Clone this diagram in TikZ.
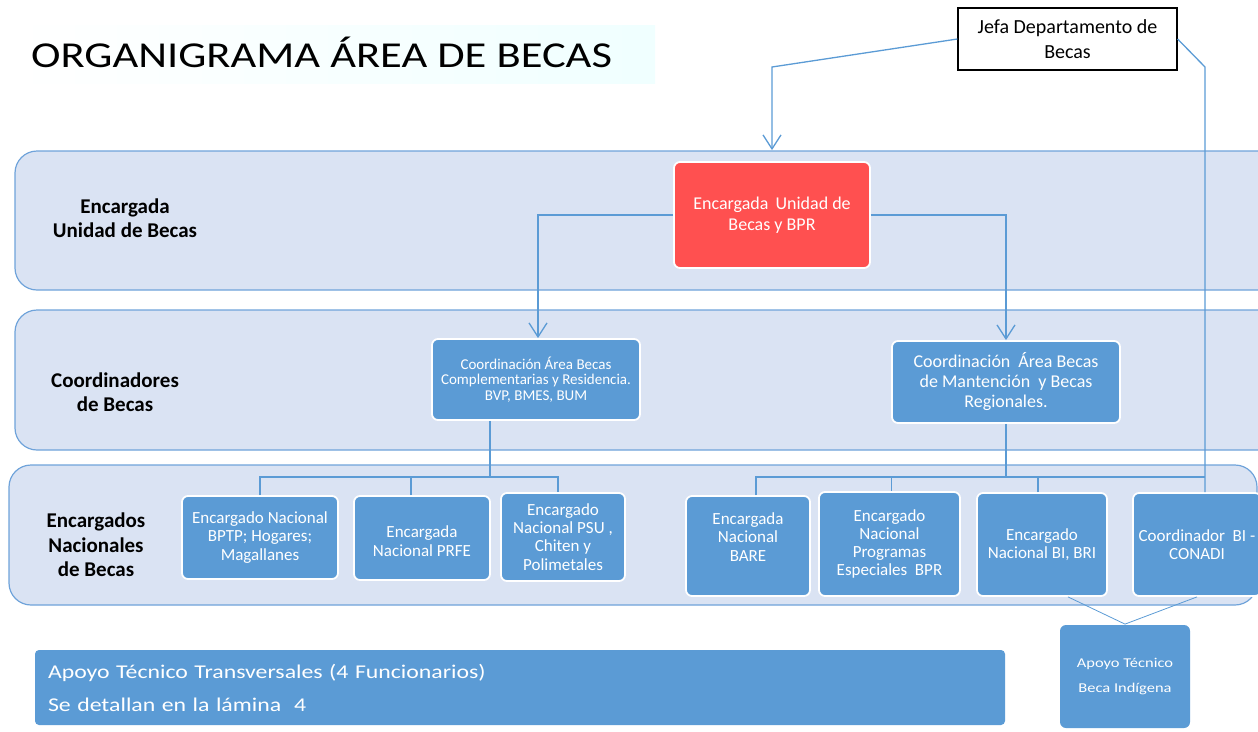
\documentclass[tikz,border=0pt]{standalone}
\usepackage{fontspec}
\setmainfont{Carlito}
\newfontfamily\widefont{Carlito}[FakeStretch=1.22]
\usetikzlibrary{arrows.meta}
\definecolor{boxblue}{HTML}{5B9BD5}
\definecolor{bandfill}{HTML}{DAE3F3}
\definecolor{bandline}{HTML}{6FA3DA}
\definecolor{redbox}{HTML}{FF5050}
\tikzset{
  band/.style={draw=bandline, fill=bandfill, line width=1.2pt, rounded corners=22pt},
  unit/.style={draw=white, line width=1.8pt, fill=boxblue, rounded corners=6pt,
    text=white, align=center, inner sep=2pt},
  row/.style={unit, font=\fontsize{17}{18.3}\selectfont},
  bandlabel/.style={font=\fontsize{21}{24.5}\selectfont\bfseries, align=center},
  link/.style={draw=boxblue, line width=1.3pt},
  arr/.style={link, -{Straight Barb[length=14pt,width=18pt]}}
}
\begin{document}
\begin{tikzpicture}[x=1pt,y=-1pt]
  \useasboundingbox (0,0) rectangle (1258,731);
  \shade[left color=white, right color=cyan!6] (12,25) rectangle (655,83);
  \node[anchor=base west, inner sep=0pt, font=\widefont\fontsize{36.5}{40}\selectfont] (title) at (31,67) {ORGANIGRAMA ÁREA DE BECAS};
  \draw[band] (15,151) rectangle (1300,290);
  \draw[band] (15,310) rectangle (1300,450);
  \draw[band] (9,465) rectangle (1257,605);
  \node[bandlabel] (l1) at (125,218) {Encargada\\Unidad de Becas};
  \node[bandlabel] (l2) at (115,392) {Coordinadores\\de Becas};
  \node[bandlabel] (l3) at (96,545) {Encargados\\Nacionales\\de Becas};
  \node[draw=black, line width=1.2pt, fill=white, minimum width=219pt, minimum height=62pt,
    align=center, font=\fontsize{20}{25}\selectfont] (jefa) at (1067.5,39)
    {Jefa Departamento de\\Becas};
  \node[unit, fill=redbox, minimum width=196pt, minimum height=106pt,
    font=\fontsize{18}{21.5}\selectfont] (ub) at (772,215)
    {Encargada\hspace{3pt} Unidad de\\Becas y BPR};
  \node[unit, minimum width=208pt, minimum height=81pt, font=\fontsize{15}{15.7}\selectfont] (cc) at (536,379.5)
    {Coordinación Área Becas\\Complementarias y Residencia.\\BVP, BMES, BUM};
  \node[unit, minimum width=228pt, minimum height=82pt, font=\fontsize{18}{20}\selectfont] (cm) at (1006,382)
    {Coordinación\hspace{4pt} Área Becas\\de Mantención\hspace{4pt} y Becas\\Regionales.};
  \node[row, minimum width=156pt, minimum height=83pt] (n1) at (260,537.5) {Encargado Nacional\\BPTP; Hogares;\\Magallanes};
  \node[row, minimum width=136pt, minimum height=84pt] (n2) at (422,538) {\mbox{}\\Encargada\\Nacional PRFE};
  \node[row, minimum width=124pt, minimum height=88pt] (n3) at (563,537) {Encargado\\Nacional PSU ,\\Chiten y\\Polimetales};
  \node[row, minimum width=124pt, minimum height=100pt] (n4) at (748,546) {Encargada\\Nacional\\BARE\\\mbox{}};
  \node[row, minimum width=141pt, minimum height=104pt] (n5) at (889.5,544) {Encargado\\Nacional\\Programas\\Especiales\ \ BPR};
  \node[row, minimum width=130pt, minimum height=103pt] (n6) at (1042,544.5) {Encargado\\Nacional BI, BRI};
  \node[row, minimum width=128pt, minimum height=103pt] (n7) at (1197,544.5) {Coordinador\ \ BI -\\CONADI};
  \node[unit, draw=none, minimum width=130pt, minimum height=103pt, font=\widefont\fontsize{13.5}{25}\selectfont] (ai) at (1125,676.5)
    {Apoyo Técnico\\Beca Indígena};
  \node[unit, draw=none, rounded corners=4pt, minimum width=970pt, minimum height=75pt, text width=944pt, align=left,
    font=\widefont\fontsize{19.5}{33}\selectfont] (at) at (520,687.5)
    {Apoyo Técnico Transversales (4 Funcionarios)\\Se detallan en la lámina\ \ 4};
  \begin{scope}[link]
    \coordinate (jl) at (772,67);
    \coordinate (jr) at (1205,67);
    \coordinate (hl) at (490,477);
    \coordinate (hr) at (1007,477);
    \draw[arr, shorten >=11pt] (jefa.west) -- (jl) -- (ub.north);
    \draw[arr] (ub.west) -| ([xshift=2pt]cc.north);
    \draw[arr] (ub.east) -| (cm.north);
    \draw (jefa.east) -- (jr) -- (jr |- n7.north);
    \draw ([xshift=-46pt]cc.south) -- (hl);
    \draw (n1.north) -- (n1.north |- hl) -- ([xshift=-5pt]n3.north |- hl) -- ([xshift=-5pt]n3.north);
    \draw ([xshift=-11pt]n2.north) -- ([xshift=-11pt]n2.north |- hl);
    \draw (cm.south) -- (cm.south |- hr);
    \draw ([xshift=8pt]n4.north) -- ([xshift=8pt]n4.north |- hr) -- (jr |- hr);
    \draw ([xshift=2pt]n5.north) -- ([xshift=2pt]n5.north |- hr);
    \draw ([xshift=-4pt]n6.north) -- ([xshift=-4pt]n6.north |- hr);
    \draw[line width=0.8pt] ([xshift=26pt]n6.south) -- (ai.north) -- (n7.south);
  \end{scope}
\end{tikzpicture}
\end{document}
